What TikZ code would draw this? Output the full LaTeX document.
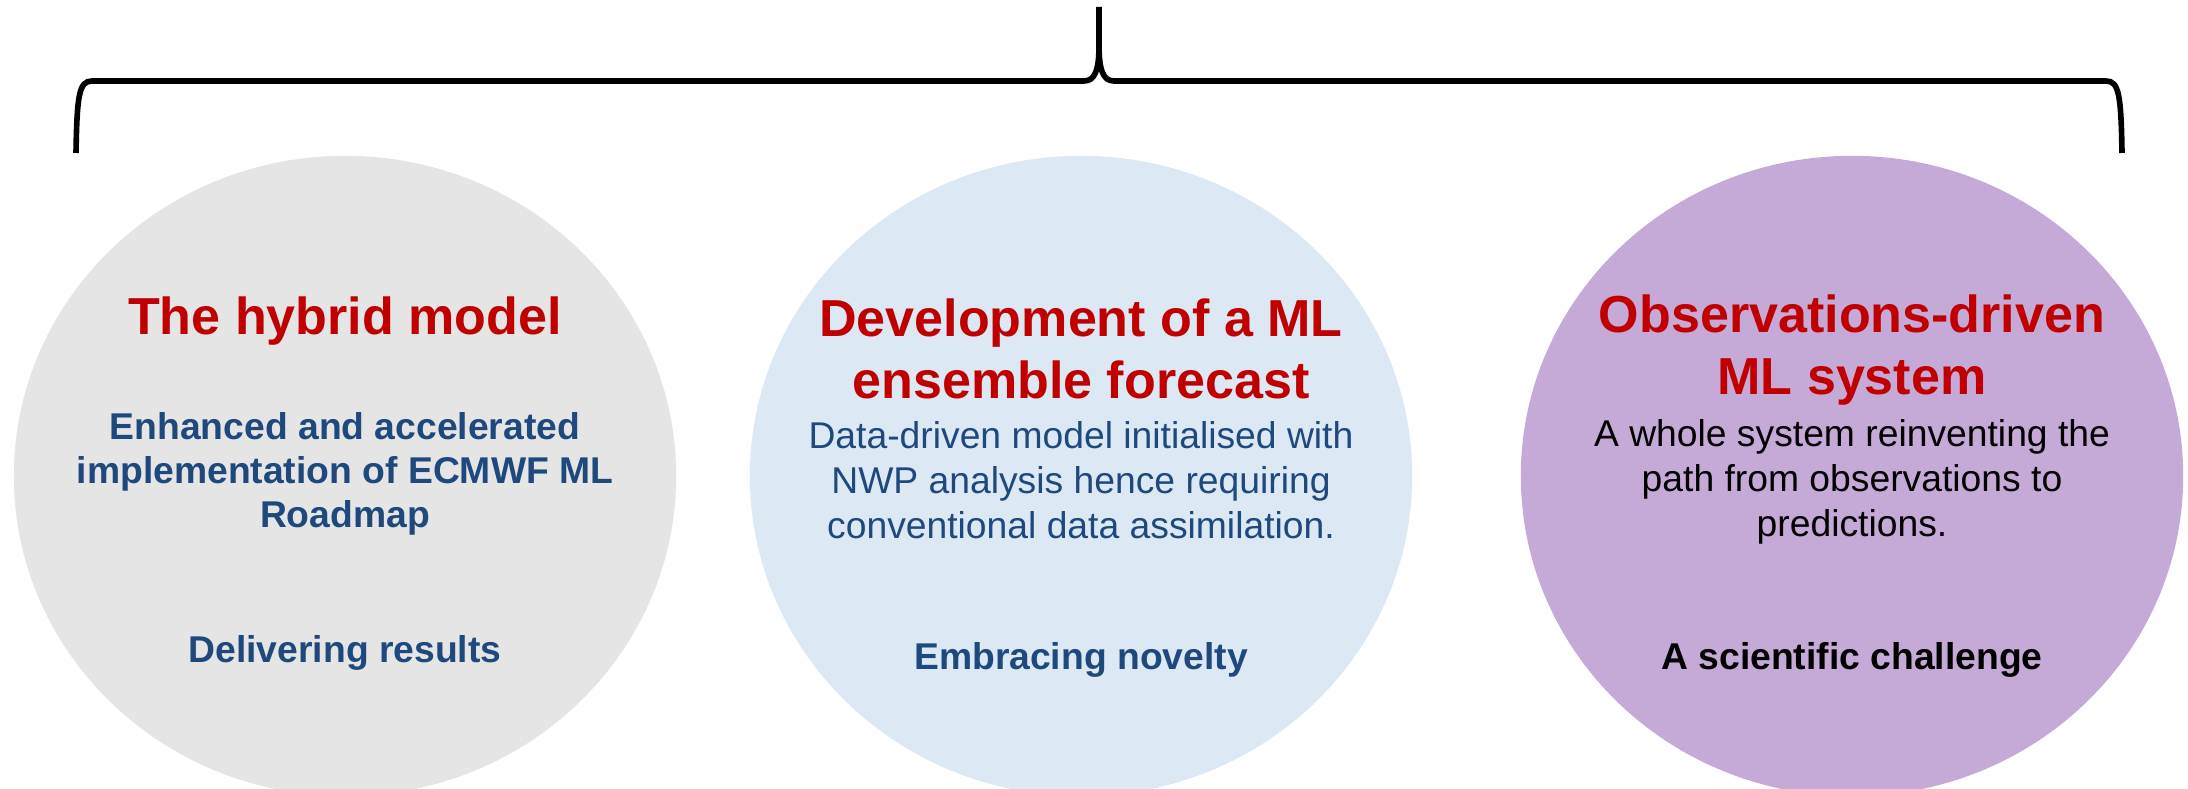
\documentclass[tikz,border=0pt]{standalone}
\usepackage{fontspec}
\setmainfont{Liberation Sans}
\usetikzlibrary{shapes.geometric}

\definecolor{hybridgray}{HTML}{E5E5E5}
\definecolor{ensblue}{HTML}{DCE9F5}
\definecolor{obspurple}{HTML}{C5AAD7}
\definecolor{titlered}{HTML}{C00000}
\definecolor{textblue}{HTML}{1F497D}

\tikzset{
  bubble/.style={ellipse,minimum width=6.62cm,minimum height=6.4cm,inner sep=0pt},
  headline/.style={align=center,text=titlered,font=\fontsize{14.8}{17.5}\selectfont\bfseries},
  blurb/.style={align=center,font=\fontsize{10.6}{12.8}\selectfont},
  motto/.style={align=center,font=\fontsize{10.6}{12.6}\selectfont\bfseries}
}

\begin{document}
\begin{tikzpicture}[x=0.01cm,y=-0.01cm]

\def\cy{476}
\def\ax{345}
\def\bx{1081}
\def\cx{1852}

\useasboundingbox (0,0) rectangle (2188,789);

\begin{scope}
\clip (0,0) rectangle (2188,789);
\node[bubble,fill=hybridgray] (hybrid) at (\ax,\cy) {};
\node[bubble,fill=ensblue] (ensemble) at (\bx,\cy) {};
\node[bubble,fill=obspurple] (obsdriven) at (\cx,\cy) {};
\end{scope}

\draw[line width=1.6pt] (76,153) .. controls (77,95) and (79,81) .. (92,81)
	-- (1084,81) .. controls (1095,81) and (1099,70) .. (1099,45) -- (1099,7);
\draw[line width=1.6pt] (1099,45) .. controls (1099,70) and (1103,81) .. (1114,81)
	-- (2106,81) .. controls (2119,81) and (2121,95) .. (2122,153);

\node[headline] (hybridtitle) at (\ax,321) {The hybrid model};
\node[motto,text=textblue] (hybridtext) at (\ax,474)
	{Enhanced and accelerated\\implementation of ECMWF ML\\Roadmap};
\node[motto,text=textblue] (hybridmotto) at (\ax,653) {Delivering results};

\node[headline] (enstitle) at (\bx,349) {Development of a ML\\ensemble forecast};
\node[blurb,text=textblue] (enstext) at (\bx,480)
	{Data-driven model initialised with\\NWP analysis hence requiring\\conventional data assimilation.};
\node[motto,text=textblue] (ensmotto) at (\bx,660) {Embracing novelty};

\node[headline] (obstitle) at (\cx,350) {Observations-driven\\ML system};
\node[blurb] (obstext) at (\cx,482)
	{A whole system reinventing the\\path from observations to\\predictions.};
\node[motto] (obsmotto) at (\cx,660) {A scientific challenge};

\end{tikzpicture}
\end{document}
